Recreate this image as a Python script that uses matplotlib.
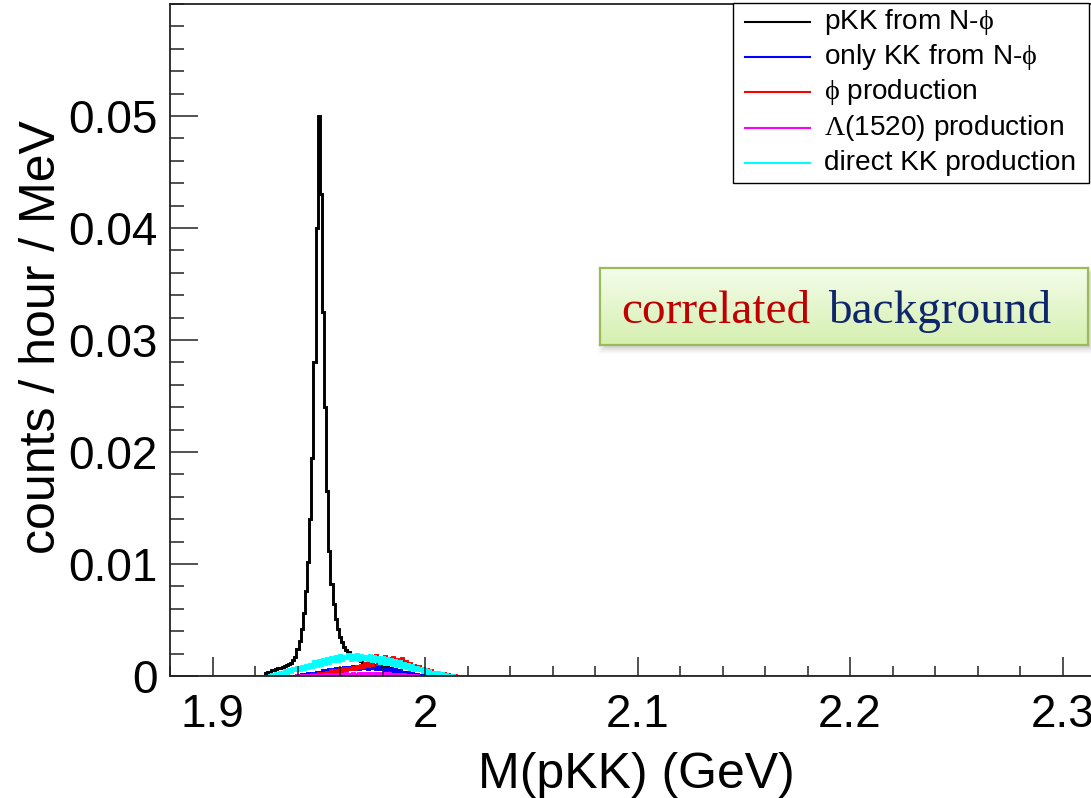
import numpy as np
import matplotlib
matplotlib.use("Agg")
import matplotlib.pyplot as plt
from matplotlib.lines import Line2D
from matplotlib.patches import Rectangle
from matplotlib.ticker import MultipleLocator

plt.rcParams['font.family'] = ['Liberation Sans', 'DejaVu Sans']
plt.rcParams['mathtext.fontset'] = 'custom'
plt.rcParams['mathtext.rm'] = 'Liberation Serif'
plt.rcParams['mathtext.it'] = 'Liberation Serif'

# ---- data: 1 MeV bins, centres 1920 ... 2019 MeV; values in 1e-4 counts/hour/MeV ----
bin_lo_mev, bin_hi_mev = 1919.5, 2019.5

pkk_from_nphi = [
    0, 0, 0, 0, 0, 3, 4, 4, 5, 5,              # 1920-1929
    6, 7, 7, 8, 9, 10, 11, 12, 14, 17,         # 1930-1939
    24, 31, 42, 56, 76, 102, 140, 195, 280, 400,  # 1940-1949
    500, 430, 325, 240, 165, 112, 82, 64, 51, 42,  # 1950-1959
    35, 30, 26, 23, 21, 19, 19, 18, 16, 15,    # 1960-1969
    13, 12, 12, 11, 10, 10, 9, 10, 9, 9,       # 1970-1979
    8, 8, 8, 7, 7, 6, 6, 5, 5, 4,              # 1980-1989
    4, 3, 3, 2, 2, 2, 1, 1, 1, 1,              # 1990-1999
    1, 0, 0, 0, 0, 0, 0, 0, 0, 0,              # 2000-2009
    0, 0, 0, 0, 0, 0, 0, 0, 0, 0,              # 2010-2019
]

only_kk_from_nphi = [
    0, 0, 0, 0, 0, 0, 0, 0, 0, 0,
    0, 0, 0, 0, 0, 0, 0, 0, 0, 0,
    1, 1, 2, 1, 2, 3, 2, 3, 2, 4,
    3, 4, 5, 3, 5, 6, 4, 6, 7, 5,
    7, 5, 8, 6, 8, 6, 9, 7, 8, 6,
    9, 7, 8, 6, 8, 7, 9, 6, 8, 6,
    7, 5, 7, 5, 6, 4, 6, 4, 5, 3,
    4, 3, 4, 2, 3, 2, 2, 1, 1, 1,
    0, 0, 0, 0, 0, 0, 0, 0, 0, 0,
    0, 0, 0, 0, 0, 0, 0, 0, 0, 0,
]

phi_production = [
    0, 0, 0, 0, 0, 0, 0, 0, 0, 0,
    0, 0, 0, 0, 0, 0, 0, 0, 0, 0,
    0, 0, 0, 0, 0, 1, 1, 2, 1, 2,
    3, 2, 3, 2, 4, 3, 5, 3, 5, 4,
    6, 4, 7, 5, 7, 6, 8, 6, 9, 7,
    10, 8, 12, 9, 13, 10, 14, 19, 11, 15,
    12, 18, 12, 16, 11, 17, 11, 15, 10, 16,
    10, 13, 8, 12, 7, 10, 6, 9, 5, 7,
    5, 6, 3, 5, 3, 4, 2, 3, 2, 3,
    1, 2, 1, 1, 1, 0, 0, 0, 0, 0,
]

lambda1520_production = [
    0, 0, 0, 0, 0, 0, 0, 0, 0, 0,
    0, 0, 0, 0, 0, 0, 0, 0, 0, 0,
    1, 1, 1, 1, 1, 1, 1, 1, 1, 1,
    1, 1, 1, 2, 1, 2, 2, 1, 2, 2,
    2, 2, 2, 3, 2, 2, 3, 2, 2, 3,
    2, 3, 3, 2, 3, 3, 3, 2, 3, 3,
    3, 3, 2, 3, 2, 2, 2, 2, 2, 1,
    2, 1, 1, 1, 1, 1, 1, 0, 0, 0,
    0, 0, 0, 0, 0, 0, 0, 0, 0, 0,
    0, 0, 0, 0, 0, 0, 0, 0, 0, 0,
]

direct_kk_production = [
    0, 0, 0, 0, 0, 0, 0, 1, 2, 1,
    3, 2, 4, 2, 5, 3, 6, 4, 7, 5,
    8, 5, 9, 6, 10, 7, 11, 8, 13, 9,
    14, 10, 15, 11, 16, 12, 17, 13, 18, 13,
    19, 14, 18, 16, 20, 14, 19, 15, 20, 14,
    19, 15, 18, 14, 19, 13, 18, 13, 17, 12,
    17, 11, 16, 11, 15, 10, 14, 9, 13, 8,
    12, 7, 11, 6, 10, 5, 8, 5, 7, 4,
    6, 3, 5, 3, 4, 2, 4, 2, 3, 1,
    2, 1, 1, 1, 0, 0, 0, 0, 0, 0,
]

series = [
    ("pKK from N-$\\phi$", pkk_from_nphi, "#000000"),
    ("only KK from N-$\\phi$", only_kk_from_nphi, "#0000ff"),
    ("$\\phi$ production", phi_production, "#ff0000"),
    ("$\\Lambda$(1520) production", lambda1520_production, "#ff00ff"),
    ("direct KK production", direct_kk_production, "#00ffff"),
]

x_ticks = [1.9, 2.0, 2.1, 2.2, 2.3]
x_tick_labels = ["1.9", "2", "2.1", "2.2", "2.3"]
y_ticks = [0, 0.01, 0.02, 0.03, 0.04, 0.05]
y_tick_labels = ["0", "0.01", "0.02", "0.03", "0.04", "0.05"]

# ---- figure ----
W, H = 1091, 798
fig = plt.figure(figsize=(W / 100, H / 100), dpi=100)


def fx(px):
    return px / W


def fy(py):
    return 1 - py / H


x_lo, x_hi = 1.88, 2.36
px_per_gev = 2125.0
ax = fig.add_axes([fx(170), fy(676), (x_hi - x_lo) * px_per_gev / W, (676 - 4) / H])

edges = np.arange(bin_lo_mev, bin_hi_mev + 0.5, 1.0) * 1e-3
edges_full = np.concatenate([[x_lo], edges, [x_hi]])
for label, vals, col in series:
    v = np.asarray(vals, dtype=float) * 1e-4
    v_full = np.concatenate([[0.0], v, [0.0]])
    ax.stairs(v_full, edges_full, color=col, lw=2.1)

ax.set_xlim(x_lo, x_hi)
ax.set_ylim(0, 0.06)
ax.set_xticks(x_ticks)
ax.set_xticklabels(x_tick_labels)
ax.set_yticks(y_ticks)
ax.set_yticklabels(y_tick_labels)
ax.xaxis.set_minor_locator(MultipleLocator(0.02))
ax.yaxis.set_minor_locator(MultipleLocator(0.002))
ax.tick_params(axis='y', which='major', direction='in', length=20, width=1.1,
               labelsize=33, pad=9, color='#222222')
ax.tick_params(axis='y', which='minor', direction='in', length=10, width=1.1, color='#222222')
ax.tick_params(axis='x', which='major', direction='in', length=14, width=1.1,
               labelsize=33, pad=12, color='#222222')
ax.tick_params(axis='x', which='minor', direction='in', length=7, width=1.1, color='#222222')
for s in ax.spines.values():
    s.set_linewidth(1.3)
    s.set_color('#222222')

fig.text(fx(636), fy(788), "M(pKK) (GeV)", fontsize=36, ha='center', va='baseline')
fig.text(fx(42), fy(337), "counts / hour / MeV", fontsize=36, rotation=90,
         ha='center', va='center')

# ---- legend box ----
leg_l, leg_t, leg_r, leg_b = 733, 3, 1089, 183
fig.patches.append(Rectangle((fx(leg_l), fy(leg_b)), fx(leg_r) - fx(leg_l), fy(leg_t) - fy(leg_b),
                             transform=fig.transFigure, facecolor='white', edgecolor='black',
                             lw=1.0, zorder=5))
entry_y = [21.7, 56.7, 91.7, 128.3, 163.3]
for (label, vals, col), ey in zip(series, entry_y):
    fig.lines.append(Line2D([fx(745), fx(810)], [fy(ey), fy(ey)], transform=fig.transFigure,
                            color=col, lw=1.5, zorder=6))
    fig.text(fx(824), fy(ey), label, fontsize=20.2, ha='left', va='center', zorder=6)

# ---- annotation box with soft shadow and gradient fill ----
bx0, by0, bx1, by1 = 600, 268, 1088, 345
sh_off, blur = (3, 4), 6
sx0, sy0 = bx0 + sh_off[0] - blur, by0 + sh_off[1] - blur
sx1, sy1 = bx1 + sh_off[0] + blur, by1 + sh_off[1] + blur
sh_ax = fig.add_axes([fx(sx0), fy(sy1), (sx1 - sx0) / W, (sy1 - sy0) / H], zorder=7)
sh_ax.set_axis_off()
hh, ww = sy1 - sy0, sx1 - sx0
yy, xx = np.mgrid[0:hh, 0:ww]
dist = np.minimum(np.minimum(xx + 0.5, ww - xx - 0.5), np.minimum(yy + 0.5, hh - yy - 0.5))
alpha = np.clip(dist / (2 * blur), 0, 1) ** 1.5 * 0.55
shadow = np.zeros((hh, ww, 4))
shadow[..., :3] = 0.45
shadow[..., 3] = alpha
sh_ax.imshow(shadow, aspect='auto', interpolation='bilinear')

box_ax = fig.add_axes([fx(bx0), fy(by1), (bx1 - bx0) / W, (by1 - by0) / H], zorder=8)
top_c = np.array([0.957, 0.992, 0.918])
bot_c = np.array([0.835, 0.937, 0.690])
t = np.linspace(0, 1, 80)[:, None, None]
grad = top_c * (1 - t) + bot_c * t
box_ax.imshow(np.repeat(grad, 2, axis=1), aspect='auto', interpolation='bilinear',
              extent=[0, 1, 0, 1])
box_ax.set_xticks([])
box_ax.set_yticks([])
for s in box_ax.spines.values():
    s.set_color('#9bbb59')
    s.set_linewidth(1.6)

fig.text(fx(621), fy(323), "correlated", fontsize=34, family='Liberation Serif',
         color='#c00000', ha='left', va='baseline', zorder=9)
fig.text(fx(828), fy(323), "background", fontsize=34, family='Liberation Serif',
         color='#10266b', ha='left', va='baseline', zorder=9)

fig.savefig("out.png", dpi=100)
